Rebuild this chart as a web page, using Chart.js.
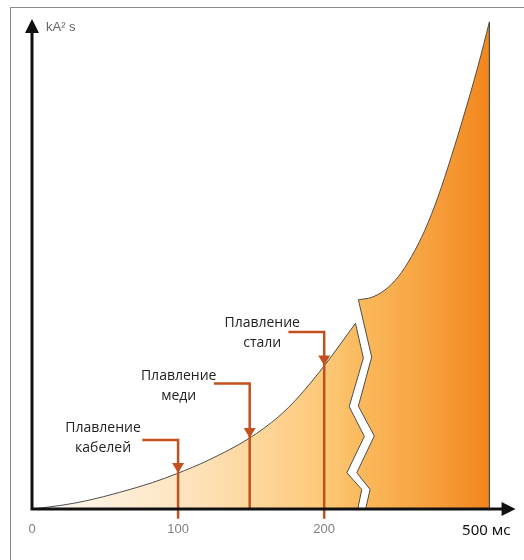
<!DOCTYPE html>
<html>
<head>
<meta charset="utf-8">
<script src="https://cdn.jsdelivr.net/npm/chart.js@4.4.1/dist/chart.umd.min.js"></script>
<style>
  html, body { margin: 0; padding: 0; background: #fff; }
  #wrap { position: relative; width: 524px; height: 560px; }
  #frame { position: absolute; left: 10px; top: 7px; right: 0; bottom: 0;
           border-top: 1px solid #8a8a8a; border-left: 1px solid #8a8a8a; pointer-events: none; }
</style>
</head>
<body>
<div id="wrap"><canvas id="chart"></canvas><div id="frame"></div></div>
<script>
// the time axis is broken after ~220, values past the break are only schematic
const xTickValues = [0, 100, 200, 311];
const xTickLabels = ['0', '100', '200', '500 мс'];

// left part of the curve (before the break)
const leftX = [0, 19, 37.5, 60, 82.5, 99, 121, 148.5, 169, 182.5, 201, 221.4];
const leftY = [0, 0.7, 1.7, 3.4, 5.4, 7.2, 10.0, 14.4, 18.9, 22.9, 29.6, 37.9];
// zigzag edges of the break
const leftBreakX = [221.4, 226.8, 217.1, 227.5, 215.5, 225.7, 223.0];
const leftBreakY = [37.9, 30.8, 20.9, 14.8, 7.4, 4.0, 0];
const rightBreakX = [228.4, 231.4, 222.3, 234.3, 223.4, 232.5, 223.4];
const rightBreakY = [0, 4.0, 7.4, 14.9, 21.0, 31.0, 42.7];
// right part of the curve (after the break)
const rightX = [223.4, 232.5, 241.6, 250.7, 259.7, 268.9, 277.9, 287.0, 296.1, 305.2, 313.1];
const rightY = [42.7, 43.2, 44.7, 47.4, 51.5, 56.9, 63.7, 71.9, 80.8, 90.3, 99.4];
const edgeX = [313.1, 313.1];
const edgeY = [99.4, 0];

// melting points marked on the curve
const meltX = [100, 149, 200];
const meltY = [7.35, 14.5, 29.3];
const meltText = [['Плавление', 'кабелей'], ['Плавление', 'меди'], ['Плавление', 'стали']];

// callout layout: elbow height, stem foot, label offsets (px)
const calloutY = [14.1, 25.6, 36.1];
const calloutFoot = [-2, 0, -2];
const calloutTextDx = [-75, -71, -62];
const calloutTextDy = [-12, -8, -9];

const calloutColor = '#C2511E';
const outline = '#4d4d4d';

const pts = (xs, ys) => xs.map((x, i) => ({x: x, y: ys[i]}));

const datasets = [];
meltX.forEach((mx, i) => {
  datasets.push({
    data: [{x: mx - 24.5, y: calloutY[i]}, {x: mx, y: calloutY[i]}, {x: mx, y: calloutFoot[i]}],
    borderColor: calloutColor, borderWidth: 2.5, pointRadius: 0, clip: false,
    borderJoinStyle: 'miter', borderCapStyle: 'butt'
  });
});
datasets.push({piece: 'left', data: pts(leftX, leftY), cubicInterpolationMode: 'monotone'});
datasets.push({piece: 'left', data: pts(leftBreakX, leftBreakY)});
datasets.push({piece: 'right', data: pts(rightBreakX, rightBreakY)});
datasets.push({piece: 'right', data: pts(rightX, rightY), cubicInterpolationMode: 'monotone'});
datasets.push({piece: 'right', data: pts(edgeX, edgeY)});
datasets.forEach(ds => {
  if (ds.piece) {
    ds.borderColor = outline;
    ds.borderWidth = 1;
    ds.pointRadius = 0;
  }
});

// fills each piece as one closed path made from its outline datasets
const pieceFill = {
  id: 'pieceFill',
  beforeDatasetsDraw(chart) {
    const ctx = chart.ctx;
    const xs = chart.scales.x;
    const grad = ctx.createLinearGradient(xs.getPixelForValue(0), 0, xs.getPixelForValue(313.1), 0);
    grad.addColorStop(0, '#ffffff');
    grad.addColorStop(0.1, '#fef4e6');
    grad.addColorStop(0.32, '#fde5c2');
    grad.addColorStop(0.5, '#fdd699');
    grad.addColorStop(0.64, '#fcc878');
    grad.addColorStop(0.72, '#fab95c');
    grad.addColorStop(0.86, '#f7a240');
    grad.addColorStop(1, '#f2861c');
    ['left', 'right'].forEach(piece => {
      ctx.save();
      ctx.beginPath();
      let first = true;
      chart.data.datasets.forEach((ds, i) => {
        if (ds.piece !== piece) return;
        const line = chart.getDatasetMeta(i).dataset;
        line.updateControlPoints(chart.chartArea, 'x');
        line.segments.forEach(seg => {
          line.pathSegment(ctx, seg, {move: first});
          first = false;
        });
      });
      ctx.closePath();
      ctx.fillStyle = grad;
      ctx.fill();
      ctx.restore();
    });
  },
  afterDatasetsDraw(chart) {
    const ctx = chart.ctx;
    const {left, right, top, bottom} = chart.chartArea;
    const xs = chart.scales.x, ys = chart.scales.y;
    ctx.save();

    // arrow heads on the curve
    ctx.fillStyle = calloutColor;
    meltX.forEach((mx, i) => {
      const px = xs.getPixelForValue(mx);
      const py = ys.getPixelForValue(meltY[i]);
      ctx.beginPath();
      ctx.moveTo(px, py);
      ctx.lineTo(px - 6, py - 10);
      ctx.lineTo(px + 6, py - 10);
      ctx.closePath();
      ctx.fill();
    });

    // axes with arrows
    ctx.strokeStyle = '#111';
    ctx.fillStyle = '#111';
    ctx.lineWidth = 3;
    ctx.beginPath();
    ctx.moveTo(left - 1.5, bottom);
    ctx.lineTo(right - 12, bottom);
    ctx.moveTo(left, bottom);
    ctx.lineTo(left, top + 12);
    ctx.stroke();
    ctx.beginPath();
    ctx.moveTo(right, bottom);
    ctx.lineTo(right - 14, bottom - 7);
    ctx.lineTo(right - 14, bottom + 7);
    ctx.closePath();
    ctx.fill();
    ctx.beginPath();
    ctx.moveTo(left, top);
    ctx.lineTo(left - 7, top + 14);
    ctx.lineTo(left + 7, top + 14);
    ctx.closePath();
    ctx.fill();

    // axis unit
    ctx.fillStyle = '#666';
    ctx.font = '13px "Liberation Sans"';
    ctx.textAlign = 'left';
    ctx.textBaseline = 'middle';
    ctx.fillText('kA² s', left + 14, top + 8);

    // callout labels
    ctx.fillStyle = '#222';
    ctx.font = '14px "Open Sans"';
    ctx.textAlign = 'center';
    meltText.forEach((lines, i) => {
      const cx = xs.getPixelForValue(meltX[i]) + calloutTextDx[i];
      const cy = ys.getPixelForValue(calloutY[i]) + calloutTextDy[i];
      lines.forEach((t, j) => ctx.fillText(t, cx, cy + j * 20));
    });
    ctx.restore();
  }
};

new Chart(document.getElementById('chart'), {
  type: 'line',
  data: {datasets: datasets},
  plugins: [pieceFill],
  options: {
    responsive: true,
    maintainAspectRatio: false,
    animation: false,
    layout: {padding: {left: 32, right: 6, top: 19, bottom: 0}},
    plugins: {legend: {display: false}, tooltip: {enabled: false}},
    scales: {
      x: {
        type: 'linear', min: 0, max: 331,
        afterBuildTicks: s => { s.ticks = xTickValues.map(v => ({value: v})); },
        afterFit: s => { s.height = 51; },
        grid: {display: false, drawTicks: false},
        border: {display: false},
        ticks: {
          autoSkip: false, maxRotation: 0, padding: 13,
          callback: (v, i) => xTickLabels[i],
          color: c => c.index === 3 ? '#111' : '#808080',
          font: c => c.index === 3 ? {family: 'Noto Sans', size: 15} : {family: 'Liberation Sans', size: 13}
        }
      },
      y: {type: 'linear', min: 0, max: 100, display: false}
    }
  }
});
</script>
</body>
</html>
